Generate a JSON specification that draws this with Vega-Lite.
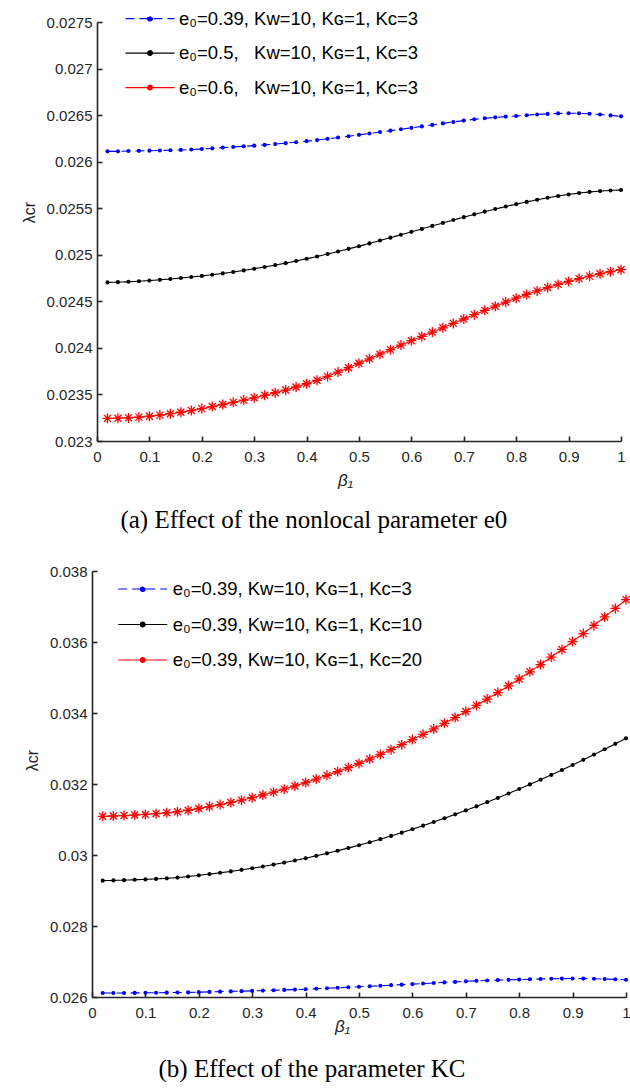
{
  "$schema": "https://vega.github.io/schema/vega-lite/v6.json",
  "background": "white",
  "padding": {"left": 21, "top": 1, "right": 0, "bottom": 0},
  "config": {
    "view": {"stroke": null},
    "axis": {
      "grid": false,
      "domainColor": "#262626",
      "domainWidth": 1.6,
      "tickColor": "#262626",
      "tickWidth": 1.6,
      "tickSize": -5,
      "labelFont": "Liberation Sans",
      "labelFontSize": 15,
      "labelColor": "#262626",
      "labelFlush": false,
      "labelOverlap": false,
      "labelBound": false,
      "titleFont": "Liberation Sans",
      "titleFontWeight": "normal",
      "titleColor": "#262626"
    },
    "legend": {
      "labelFont": "Liberation Sans",
      "labelFontSize": 18.5,
      "labelColor": "#000000",
      "labelLimit": 400,
      "padding": 0,
      "orient": "none",
      "symbolSize": 1142,
      "symbolStrokeWidth": 1.2,
      "symbolType": "M-1.45,0L1.45,0M0.142,0A0.142,0.142,0,1,1,-0.142,0A0.142,0.142,0,1,1,0.142,0Z"
    }
  },
  "data": {
    "values": [
      {"b": 0.02, "e39": 0.026111, "e50": 0.024703, "e60": 0.023243, "k10": 0.029278, "k20": 0.031090},
      {"b": 0.04, "e39": 0.026111, "e50": 0.024706, "e60": 0.023245, "k10": 0.029284, "k20": 0.031099},
      {"b": 0.06, "e39": 0.026114, "e50": 0.024710, "e60": 0.023248, "k10": 0.029292, "k20": 0.031111},
      {"b": 0.08, "e39": 0.026116, "e50": 0.024716, "e60": 0.023256, "k10": 0.029302, "k20": 0.031126},
      {"b": 0.10, "e39": 0.026118, "e50": 0.024723, "e60": 0.023266, "k10": 0.029313, "k20": 0.031143},
      {"b": 0.12, "e39": 0.026120, "e50": 0.024731, "e60": 0.023278, "k10": 0.029326, "k20": 0.031163},
      {"b": 0.14, "e39": 0.026123, "e50": 0.024740, "e60": 0.023293, "k10": 0.029343, "k20": 0.031188},
      {"b": 0.16, "e39": 0.026126, "e50": 0.024750, "e60": 0.023309, "k10": 0.029363, "k20": 0.031218},
      {"b": 0.18, "e39": 0.026130, "e50": 0.024761, "e60": 0.023327, "k10": 0.029393, "k20": 0.031260},
      {"b": 0.20, "e39": 0.026136, "e50": 0.024773, "e60": 0.023348, "k10": 0.029427, "k20": 0.031310},
      {"b": 0.22, "e39": 0.026143, "e50": 0.024786, "e60": 0.023370, "k10": 0.029463, "k20": 0.031365},
      {"b": 0.24, "e39": 0.026151, "e50": 0.024800, "e60": 0.023392, "k10": 0.029499, "k20": 0.031420},
      {"b": 0.26, "e39": 0.026158, "e50": 0.024815, "e60": 0.023415, "k10": 0.029538, "k20": 0.031480},
      {"b": 0.28, "e39": 0.026165, "e50": 0.024832, "e60": 0.023439, "k10": 0.029581, "k20": 0.031545},
      {"b": 0.30, "e39": 0.026172, "e50": 0.024850, "e60": 0.023464, "k10": 0.029627, "k20": 0.031615},
      {"b": 0.32, "e39": 0.026180, "e50": 0.024869, "e60": 0.023491, "k10": 0.029677, "k20": 0.031690},
      {"b": 0.34, "e39": 0.026189, "e50": 0.024889, "e60": 0.023518, "k10": 0.029730, "k20": 0.031770},
      {"b": 0.36, "e39": 0.026199, "e50": 0.024910, "e60": 0.023547, "k10": 0.029786, "k20": 0.031855},
      {"b": 0.38, "e39": 0.026209, "e50": 0.024933, "e60": 0.023580, "k10": 0.029846, "k20": 0.031945},
      {"b": 0.40, "e39": 0.026220, "e50": 0.024957, "e60": 0.023615, "k10": 0.029909, "k20": 0.032040},
      {"b": 0.42, "e39": 0.026232, "e50": 0.024982, "e60": 0.023652, "k10": 0.029976, "k20": 0.032140},
      {"b": 0.44, "e39": 0.026245, "e50": 0.025008, "e60": 0.023694, "k10": 0.030046, "k20": 0.032243},
      {"b": 0.46, "e39": 0.026259, "e50": 0.025035, "e60": 0.023740, "k10": 0.030119, "k20": 0.032350},
      {"b": 0.48, "e39": 0.026273, "e50": 0.025063, "e60": 0.023787, "k10": 0.030196, "k20": 0.032462},
      {"b": 0.50, "e39": 0.026288, "e50": 0.025092, "e60": 0.023835, "k10": 0.030276, "k20": 0.032580},
      {"b": 0.52, "e39": 0.026303, "e50": 0.025122, "e60": 0.023883, "k10": 0.030359, "k20": 0.032703},
      {"b": 0.54, "e39": 0.026318, "e50": 0.025153, "e60": 0.023932, "k10": 0.030446, "k20": 0.032832},
      {"b": 0.56, "e39": 0.026333, "e50": 0.025184, "e60": 0.023981, "k10": 0.030537, "k20": 0.032968},
      {"b": 0.58, "e39": 0.026348, "e50": 0.025215, "e60": 0.024030, "k10": 0.030630, "k20": 0.033109},
      {"b": 0.60, "e39": 0.026363, "e50": 0.025246, "e60": 0.024077, "k10": 0.030727, "k20": 0.033251},
      {"b": 0.62, "e39": 0.026379, "e50": 0.025278, "e60": 0.024123, "k10": 0.030827, "k20": 0.033398},
      {"b": 0.64, "e39": 0.026395, "e50": 0.025310, "e60": 0.024169, "k10": 0.030930, "k20": 0.033551},
      {"b": 0.66, "e39": 0.026411, "e50": 0.025342, "e60": 0.024216, "k10": 0.031036, "k20": 0.033709},
      {"b": 0.68, "e39": 0.026426, "e50": 0.025373, "e60": 0.024263, "k10": 0.031145, "k20": 0.033872},
      {"b": 0.70, "e39": 0.026441, "e50": 0.025404, "e60": 0.024310, "k10": 0.031256, "k20": 0.034040},
      {"b": 0.72, "e39": 0.026455, "e50": 0.025434, "e60": 0.024357, "k10": 0.031371, "k20": 0.034214},
      {"b": 0.74, "e39": 0.026466, "e50": 0.025463, "e60": 0.024403, "k10": 0.031489, "k20": 0.034392},
      {"b": 0.76, "e39": 0.026476, "e50": 0.025491, "e60": 0.024448, "k10": 0.031609, "k20": 0.034576},
      {"b": 0.78, "e39": 0.026484, "e50": 0.025518, "e60": 0.024492, "k10": 0.031733, "k20": 0.034766},
      {"b": 0.80, "e39": 0.026491, "e50": 0.025544, "e60": 0.024534, "k10": 0.031859, "k20": 0.034960},
      {"b": 0.82, "e39": 0.026499, "e50": 0.025568, "e60": 0.024574, "k10": 0.031989, "k20": 0.035160},
      {"b": 0.84, "e39": 0.026507, "e50": 0.025591, "e60": 0.024612, "k10": 0.032121, "k20": 0.035365},
      {"b": 0.86, "e39": 0.026513, "e50": 0.025612, "e60": 0.024648, "k10": 0.032257, "k20": 0.035575},
      {"b": 0.88, "e39": 0.026518, "e50": 0.025631, "e60": 0.024682, "k10": 0.032395, "k20": 0.035791},
      {"b": 0.90, "e39": 0.026520, "e50": 0.025648, "e60": 0.024714, "k10": 0.032536, "k20": 0.036011},
      {"b": 0.92, "e39": 0.026519, "e50": 0.025663, "e60": 0.024744, "k10": 0.032681, "k20": 0.036237},
      {"b": 0.94, "e39": 0.026514, "e50": 0.025675, "e60": 0.024771, "k10": 0.032828, "k20": 0.036468},
      {"b": 0.96, "e39": 0.026506, "e50": 0.025684, "e60": 0.024796, "k10": 0.032978, "k20": 0.036705},
      {"b": 0.98, "e39": 0.026497, "e50": 0.025691, "e60": 0.024819, "k10": 0.033131, "k20": 0.036947},
      {"b": 1.00, "e39": 0.026487, "e50": 0.025696, "e60": 0.024840, "k10": 0.033287, "k20": 0.037194}
    ]
  },
  "spacing": 31,
  "resolve": {
    "scale": {"color": "independent", "strokeDash": "independent"},
    "legend": {"color": "independent", "strokeDash": "independent"}
  },
  "vconcat": [
    {
      "width": 534,
      "height": 419,
      "title": {"text": "(a) Effect of the nonlocal parameter e0", "orient": "bottom", "anchor": "middle", "frame": "bounds", "offset": 19, "dx": -11, "font": "Liberation Serif", "fontSize": 25, "fontWeight": "normal", "color": "#000000"},
      "transform": [{"fold": ["e39", "e50", "e60"], "as": ["k", "v"]}],
      "encoding": {
        "x": {"field": "b", "type": "quantitative",
          "scale": {"domain": [0, 1], "range": [5, 529], "nice": false, "zero": false},
          "axis": {"values": [0, 0.1, 0.2, 0.3, 0.4, 0.5, 0.6, 0.7, 0.8, 0.9, 1], "format": "~g", "labelPadding": 13.5,
            "title": "β₁", "titleFontSize": 17, "titleFontStyle": "italic", "titlePadding": 8, "titleX": 253}},
        "y": {"field": "v", "type": "quantitative",
          "scale": {"domain": [0.023, 0.0275], "nice": false, "zero": false},
          "axis": {"values": [0.023, 0.0235, 0.024, 0.0245, 0.025, 0.0255, 0.026, 0.0265, 0.027, 0.0275], "format": "~g", "offset": -5, "labelPadding": 10,
            "title": "λcr", "titleFontSize": 16, "titlePadding": 9, "titleY": 190}}
      },
      "layer": [
        {
          "mark": {"type": "line", "strokeWidth": 1.1},
          "encoding": {
            "color": {"field": "k", "type": "nominal",
              "scale": {"domain": ["e39", "e50", "e60"], "range": ["#0000ff", "#000000", "#ff0000"]},
              "legend": {"title": null, "legendX": 40.5, "legendY": -20.9, "labelOffset": 11.5, "rowPadding": 7.5, "direction": "vertical",
                "labelExpr": "datum.value === 'e39' ? 'e₀=0.39, Kᴡ=10, Kɢ=1, Kᴄ=3' : datum.value === 'e50' ? 'e₀=0.5,\u00a0\u00a0\u00a0Kᴡ=10, Kɢ=1, Kᴄ=3' : 'e₀=0.6,\u00a0\u00a0\u00a0Kᴡ=10, Kɢ=1, Kᴄ=3'"}},
            "strokeDash": {"field": "k", "type": "nominal",
              "scale": {"domain": ["e39", "e50", "e60"], "range": [[9, 5], [1, 0], [1, 0]]},
              "legend": {"title": null, "legendX": 40.5, "legendY": -20.9, "labelOffset": 11.5, "rowPadding": 7.5, "direction": "vertical",
                "labelExpr": "datum.value === 'e39' ? 'e₀=0.39, Kᴡ=10, Kɢ=1, Kᴄ=3' : datum.value === 'e50' ? 'e₀=0.5,\u00a0\u00a0\u00a0Kᴡ=10, Kɢ=1, Kᴄ=3' : 'e₀=0.6,\u00a0\u00a0\u00a0Kᴡ=10, Kɢ=1, Kᴄ=3'"}}
          }
        },
        {
          "transform": [{"filter": "datum.k !== 'e60'"}],
          "mark": {"type": "point", "filled": true, "shape": "circle", "size": 17, "opacity": 1},
          "encoding": {
            "color": {"field": "k", "type": "nominal",
              "scale": {"domain": ["e39", "e50", "e60"], "range": ["#0000ff", "#000000", "#ff0000"]}, "legend": null}
          }
        },
        {
          "transform": [{"filter": "datum.k === 'e60'"}],
          "mark": {"type": "point", "filled": false, "shape": "M0,-1L0,1M-1,0L1,0M-0.7,-0.7L0.7,0.7M-0.7,0.7L0.7,-0.7", "size": 100, "strokeWidth": 1.3, "stroke": "#ff0000", "opacity": 1}
        }
      ]
    },
    {
      "width": 534,
      "height": 426,
      "title": {"text": "(b) Effect of the parameter KC", "orient": "bottom", "anchor": "middle", "frame": "bounds", "offset": 22, "dx": -17, "font": "Liberation Serif", "fontSize": 25, "fontWeight": "normal", "color": "#000000"},
      "transform": [{"fold": ["e39", "k10", "k20"], "as": ["k", "v"]}],
      "encoding": {
        "x": {"field": "b", "type": "quantitative",
          "scale": {"domain": [0, 1], "nice": false, "zero": false},
          "axis": {"values": [0, 0.1, 0.2, 0.3, 0.4, 0.5, 0.6, 0.7, 0.8, 0.9, 1], "format": "~g", "labelPadding": 13.5,
            "title": "β₁", "titleFontSize": 17, "titleFontStyle": "italic", "titlePadding": -1.6, "titleX": 250}},
        "y": {"field": "v", "type": "quantitative",
          "scale": {"domain": [0.026, 0.038], "nice": false, "zero": false},
          "axis": {"values": [0.026, 0.028, 0.03, 0.032, 0.034, 0.036, 0.038], "format": "~g", "labelPadding": 10,
            "title": "λcr", "titleFontSize": 16, "titlePadding": 9, "titleY": 189}}
      },
      "layer": [
        {
          "mark": {"type": "line", "strokeWidth": 1.1},
          "encoding": {
            "color": {"field": "k", "type": "nominal",
              "scale": {"domain": ["e39", "k10", "k20"], "range": ["#0000ff", "#000000", "#ff0000"]},
              "legend": {"title": null, "legendX": 33.2, "legendY": 0.5, "labelOffset": 12.5, "rowPadding": 8.5, "direction": "vertical",
                "labelExpr": "datum.value === 'e39' ? 'e₀=0.39, Kᴡ=10, Kɢ=1, Kᴄ=3' : datum.value === 'k10' ? 'e₀=0.39, Kᴡ=10, Kɢ=1, Kᴄ=10' : 'e₀=0.39, Kᴡ=10, Kɢ=1, Kᴄ=20'"}},
            "strokeDash": {"field": "k", "type": "nominal",
              "scale": {"domain": ["e39", "k10", "k20"], "range": [[9, 5], [1, 0], [1, 0]]},
              "legend": {"title": null, "legendX": 33.2, "legendY": 0.5, "labelOffset": 12.5, "rowPadding": 8.5, "direction": "vertical",
                "labelExpr": "datum.value === 'e39' ? 'e₀=0.39, Kᴡ=10, Kɢ=1, Kᴄ=3' : datum.value === 'k10' ? 'e₀=0.39, Kᴡ=10, Kɢ=1, Kᴄ=10' : 'e₀=0.39, Kᴡ=10, Kɢ=1, Kᴄ=20'"}}
          }
        },
        {
          "transform": [{"filter": "datum.k !== 'k20'"}],
          "mark": {"type": "point", "filled": true, "shape": "circle", "size": 17, "opacity": 1},
          "encoding": {
            "color": {"field": "k", "type": "nominal",
              "scale": {"domain": ["e39", "k10", "k20"], "range": ["#0000ff", "#000000", "#ff0000"]}, "legend": null}
          }
        },
        {
          "transform": [{"filter": "datum.k === 'k20'"}],
          "mark": {"type": "point", "filled": false, "shape": "M0,-1L0,1M-1,0L1,0M-0.7,-0.7L0.7,0.7M-0.7,0.7L0.7,-0.7", "size": 100, "strokeWidth": 1.3, "stroke": "#ff0000", "opacity": 1}
        }
      ]
    }
  ]
}
